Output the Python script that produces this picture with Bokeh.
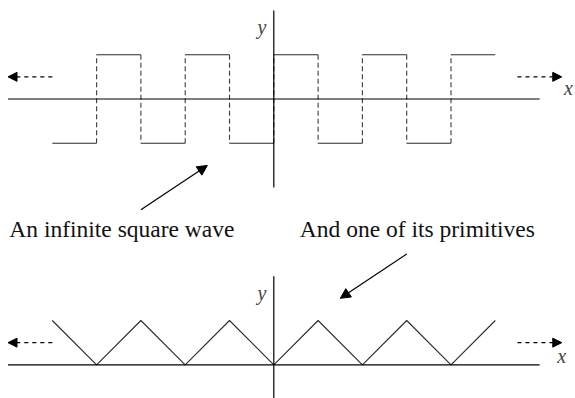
from bokeh.plotting import figure
from bokeh.models import Range1d, Arrow, NormalHead, ColumnDataSource, Label
from bokeh.embed import file_html
from bokeh.resources import INLINE

# ---- data ----
edges = [-5, -4, -3, -2, -1, 0, 1, 2, 3, 4, 5]
square_levels = [-1, 1, -1, 1, -1, 1, -1, 1, -1, 1]
tri_x = [-5, -4, -3, -2, -1, 0, 1, 2, 3, 4, 5]
tri_y = [1, 0, 1, 0, 1, 0, 1, 0, 1, 0, 1]
x_axis_span = [-6, 6]
top_y_axis_span = [-2, 2]
bottom_y_axis_span = [-0.8, 2]
panel_offset = [0, -6]
caption_texts = ["An infinite square wave", "And one of its primitives"]
caption_x = [-3.43, 3.24]
caption_y = [-2.93, -2.93]
pointer_start = [(-3, -2.5), (3, -6 + 2.5)]
pointer_end = [(-1.5, -1.5), (1.5, -6 + 1.5)]

# ---- geometry ----
W, H = 575, 398
u = 44.3
ox, oy = 273.3, 98.5
x0 = (0 - ox) / u
y1 = (oy - 0) / u

p = figure(width=W, height=H, output_backend="svg", toolbar_location=None,
           x_range=Range1d(x0, x0 + W / u), y_range=Range1d(y1 - H / u, y1),
           x_axis_type=None, y_axis_type=None, min_border=0)
p.min_border_left = p.min_border_right = p.min_border_top = p.min_border_bottom = 0
p.grid.visible = False
p.outline_line_color = None
p.background_fill_color = "white"

serif = "Liberation Serif"
wave_col = "#2a2a2a"

# square wave (top panel)
sq = ColumnDataSource(dict(x0=edges[:-1], x1=edges[1:], y=square_levels))
p.segment(x0="x0", y0="y", x1="x1", y1="y", source=sq, line_color=wave_col, line_width=1.1)
jx = [edges[i] for i in range(1, len(edges) - 1)]
jy0 = [square_levels[i - 1] for i in range(1, len(edges) - 1)]
jy1 = [square_levels[i] for i in range(1, len(edges) - 1)]
p.segment(x0=jx, y0=jy0, x1=jx, y1=jy1, line_color="#3a3a3a", line_width=1.1, line_dash="5 3")

# triangle wave (bottom panel)
p.line(tri_x, [y + panel_offset[1] for y in tri_y], line_color=wave_col, line_width=1.1)

# axes
for k, off in enumerate(panel_offset):
    p.segment(x0=[x_axis_span[0]], y0=[off], x1=[x_axis_span[1]], y1=[off],
              line_color="black", line_width=1.2)
    span = top_y_axis_span if k == 0 else bottom_y_axis_span
    p.segment(x0=[0], y0=[span[0] + off], x1=[0], y1=[span[1] + off],
              line_color="black", line_width=1.2)
    # dashed arrows
    p.add_layout(Arrow(end=NormalHead(size=9, fill_color="black", line_color="black"),
                       x_start=-5, y_start=0.5 + off, x_end=-6, y_end=0.5 + off,
                       line_dash="4 4", line_width=1.2))
    p.add_layout(Arrow(end=NormalHead(size=9, fill_color="black", line_color="black"),
                       x_start=5.5, y_start=0.5 + off, x_end=6.5, y_end=0.5 + off,
                       line_dash="4 4", line_width=1.2))
    p.add_layout(Label(x=-0.27, y=1.62 + off, text="y", text_font=serif,
                       text_font_style="italic", text_font_size="20px",
                       text_align="center", text_baseline="middle"))

p.add_layout(Label(x=6.65, y=0.24, text="x", text_font=serif, text_font_style="italic",
                   text_font_size="20px", text_align="center", text_baseline="middle"))
p.add_layout(Label(x=6.5, y=0.2 + panel_offset[1], text="x", text_font=serif,
                   text_font_style="italic", text_font_size="20px",
                   text_align="center", text_baseline="middle"))

# pointer arrows
for s, e in zip(pointer_start, pointer_end):
    p.add_layout(Arrow(end=NormalHead(size=10, fill_color="black", line_color="black"),
                       x_start=s[0], y_start=s[1], x_end=e[0], y_end=e[1], line_width=1.2))

# captions
for t, cx, cy in zip(caption_texts, caption_x, caption_y):
    p.add_layout(Label(x=cx, y=cy, text=t, text_font=serif, text_font_size="23.5px",
                       text_align="center", text_baseline="alphabetic", text_color="#111111"))

open("out.html", "w").write(file_html(p, INLINE))
